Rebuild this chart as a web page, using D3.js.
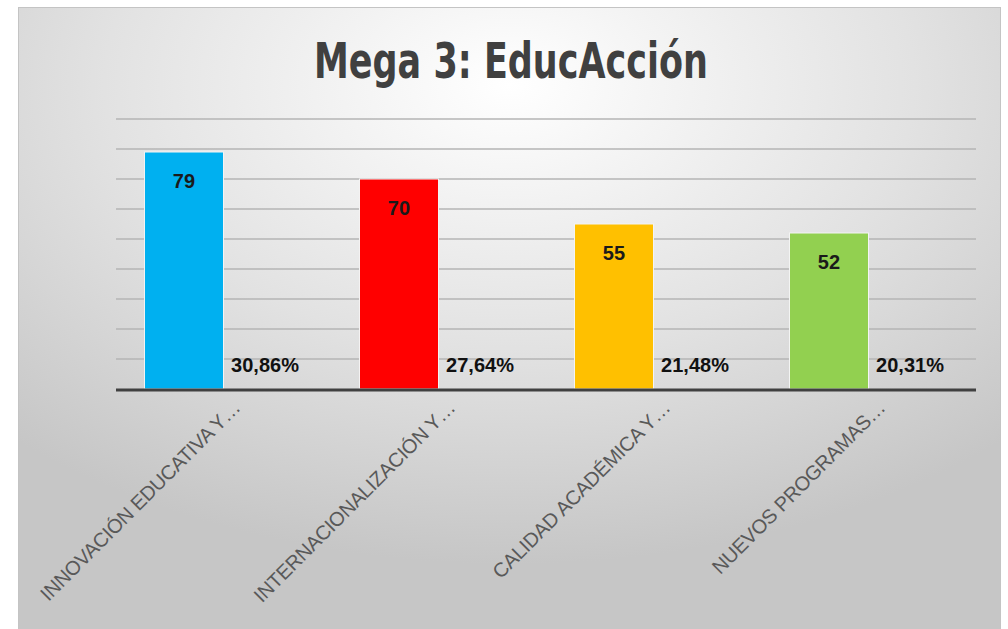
<!DOCTYPE html>
<html>
<head>
<meta charset="utf-8">
<script src="https://cdn.jsdelivr.net/npm/d3@7"></script>
<style>
  body { margin: 0; background: #fff; }
</style>
</head>
<body>
<svg id="chart"></svg>
<script>
// data
const categories = ["INNOVACIÓN EDUCATIVA Y…", "INTERNACIONALIZACIÓN Y…", "CALIDAD ACADÉMICA Y…", "NUEVOS PROGRAMAS…"];
const counts = [79, 70, 55, 52];
const shares = [30.86, 27.64, 21.48, 20.31];
const shareLabels = ["30,86%", "27,64%", "21,48%", "20,31%"];
const barColors = ["#00B0F0", "#FF0000", "#FFC000", "#92D050"];
const yTicks = [10, 20, 30, 40, 50, 60, 70, 80, 90];

const width = 1008;
const height = 629;
const plot = { left: 116, right: 976, top: 119, bottom: 389 };

const svg = d3.select("#chart")
    .attr("width", width)
    .attr("height", height);

const defs = svg.append("defs");
const grad = defs.append("radialGradient")
    .attr("id", "bg")
    .attr("cx", "50%").attr("cy", "12%")
    .attr("r", "75%");
grad.append("stop").attr("offset", "0%").attr("stop-color", "#ffffff");
grad.append("stop").attr("offset", "55%").attr("stop-color", "#e2e2e2");
grad.append("stop").attr("offset", "100%").attr("stop-color", "#c6c6c6");

svg.append("rect")
    .attr("x", 18.5).attr("y", 7.5)
    .attr("width", 982).attr("height", 640)
    .attr("fill", "url(#bg)")
    .attr("stroke", "#c4c4c4");

svg.append("text")
    .attr("x", 511).attr("y", 78)
    .attr("text-anchor", "middle")
    .attr("font-family", "'DejaVu Sans Condensed', 'DejaVu Sans'")
    .attr("font-stretch", "condensed")
    .attr("font-weight", "bold")
    .attr("font-size", 50)
    .attr("fill", "#404040")
    .attr("textLength", 394)
    .attr("lengthAdjust", "spacingAndGlyphs")
    .text("Mega 3: EducAcción");

const x0 = d3.scaleBand()
    .domain(categories)
    .range([plot.left, plot.right])
    .paddingInner(0.265)
    .paddingOuter(0.1325);

const x1 = d3.scaleBand()
    .domain(["count", "share"])
    .range([0, x0.bandwidth()]);

const y = d3.scaleLinear()
    .domain([0, 90])
    .range([plot.bottom, plot.top]);

// gridlines
svg.append("g")
    .selectAll("line")
    .data(yTicks)
    .join("line")
    .attr("x1", plot.left).attr("x2", plot.right)
    .attr("y1", d => y(d)).attr("y2", d => y(d))
    .attr("stroke", "#b4b4b4")
    .attr("stroke-width", 1.5);

const rows = categories.map((c, i) => ({
    cat: c, count: counts[i], share: shares[i], shareLabel: shareLabels[i], color: barColors[i]
}));

const group = svg.append("g")
    .selectAll("g")
    .data(rows)
    .join("g")
    .attr("transform", d => `translate(${x0(d.cat)},0)`);

group.append("rect")
    .attr("x", x1("count"))
    .attr("y", d => y(d.count))
    .attr("width", x1.bandwidth())
    .attr("height", d => y(0) - y(d.count))
    .attr("fill", d => d.color)
    .attr("stroke", "#f4f4f4")
    .attr("stroke-width", 1);

// percentage series: values too small to show as bars
group.append("rect")
    .attr("x", x1("share"))
    .attr("y", d => y(d.share / 100))
    .attr("width", x1.bandwidth())
    .attr("height", d => y(0) - y(d.share / 100))
    .attr("fill", "none");

group.append("text")
    .attr("x", x1("count") + x1.bandwidth() / 2)
    .attr("y", d => y(d.count) + 36)
    .attr("text-anchor", "middle")
    .attr("font-family", "'Liberation Sans', Arial, sans-serif")
    .attr("font-weight", "bold")
    .attr("font-size", 20)
    .attr("fill", "#1a1a1a")
    .text(d => d.count);

group.append("text")
    .attr("x", x1("share") + x1.bandwidth() / 2 + 2)
    .attr("y", d => y(d.share / 100) - 16)
    .attr("text-anchor", "middle")
    .attr("font-family", "'Liberation Sans', Arial, sans-serif")
    .attr("font-weight", "bold")
    .attr("font-size", 20)
    .attr("fill", "#111")
    .text(d => d.shareLabel);

// axis line
svg.append("line")
    .attr("x1", plot.left).attr("x2", plot.right)
    .attr("y1", y(0) + 1).attr("y2", y(0) + 1)
    .attr("stroke", "#404040")
    .attr("stroke-width", 3);

// rotated category labels
svg.append("g")
    .selectAll("text")
    .data(categories)
    .join("text")
    .attr("transform", d => `translate(${x0(d) + x0.bandwidth() / 2 + 18},${y(0) + 20}) rotate(-45)`)
    .attr("text-anchor", "end")
    .attr("font-family", "'Liberation Sans', Arial, sans-serif")
    .attr("font-size", 20)
    .attr("letter-spacing", -0.3)
    .attr("fill", "#595959")
    .text(d => d);
</script>
</body>
</html>
